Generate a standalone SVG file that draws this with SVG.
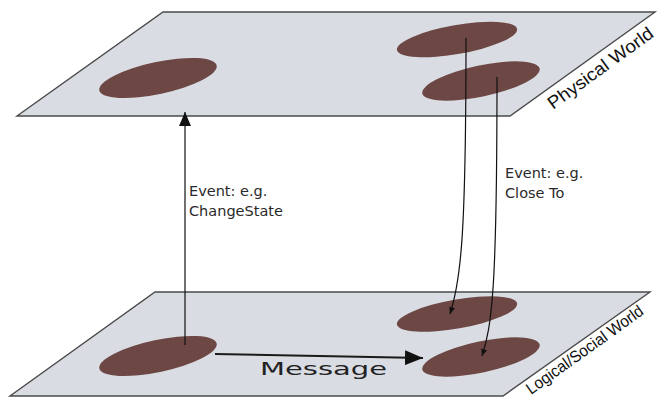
<svg xmlns="http://www.w3.org/2000/svg" width="659" height="405" viewBox="0 0 659 405">
  <style>
    .plane { fill: #dadce3; stroke: #4a4a4a; stroke-width: 1.4; stroke-linejoin: miter; }
    .entity { fill: #6c4744; }
    .link { fill: none; stroke: #111; stroke-width: 1.2; }
    .msg { fill: none; stroke: #1a1a1a; stroke-width: 2; }
    .label { font-family: "DejaVu Sans", "Liberation Sans", sans-serif; font-size: 14.5px; fill: #2a2a2a; }
    .world { font-family: "Liberation Sans", "DejaVu Sans", sans-serif; font-size: 18px; fill: #111; }
    .msgtext { font-family: "DejaVu Sans", "Liberation Sans", sans-serif; font-size: 18px; fill: #222; }
  </style>
  <defs>
    <marker id="bigHead" markerWidth="14" markerHeight="12" refX="14" refY="6" orient="auto" markerUnits="userSpaceOnUse">
      <path d="M0,0 L14,6 L0,12 Z" fill="#111"/>
    </marker>
    <marker id="msgHead" markerWidth="18" markerHeight="15" refX="18" refY="7.5" orient="auto" markerUnits="userSpaceOnUse">
      <path d="M0,0 L18,7.5 L0,15 Z" fill="#111"/>
    </marker>
    <marker id="smallHead" markerWidth="7" markerHeight="6" refX="7" refY="3" orient="auto" markerUnits="userSpaceOnUse">
      <path d="M0,0 L7,3 L0,6 Z" fill="#111"/>
    </marker>
  </defs>

  <!-- Physical world plane -->
  <g id="physical-world">
    <polygon class="plane" points="163,12 655,12 510,116 17,116"/>
    <text class="world" transform="translate(553,110) rotate(-36)" textLength="126" lengthAdjust="spacingAndGlyphs">Physical World</text>
  </g>
  <g id="phys-a"><ellipse class="entity" cx="158" cy="78" rx="60" ry="16" transform="rotate(-12 158 78)"/></g>
  <g id="phys-b"><ellipse class="entity" cx="457" cy="39.5" rx="61" ry="14.5" transform="rotate(-10 457 39.5)"/></g>
  <g id="phys-c"><ellipse class="entity" cx="481" cy="81" rx="60" ry="15.5" transform="rotate(-12 481 81)"/></g>

  <!-- Logical/social world plane -->
  <g id="logical-world">
    <polygon class="plane" points="155,292 650,292 503,396 10,396"/>
    <text class="world" style="font-size:16.5px" transform="translate(531,395) rotate(-35.6)" textLength="140" lengthAdjust="spacingAndGlyphs">Logical/Social World</text>
  </g>
  <g id="log-a"><ellipse class="entity" cx="158" cy="356" rx="60" ry="16" transform="rotate(-12 158 356)"/></g>
  <g id="log-b"><ellipse class="entity" cx="457" cy="314" rx="61" ry="14.5" transform="rotate(-10 457 314)"/></g>
  <g id="log-c"><ellipse class="entity" cx="481" cy="357" rx="60" ry="15.5" transform="rotate(-12 481 357)"/></g>

  <!-- Connectors -->
  <g id="connectors">
    <line class="link" x1="185" y1="345" x2="185" y2="112" marker-end="url(#bigHead)"/>
    <path class="msg" d="M215,354 L423,358" marker-end="url(#msgHead)"/>
    <path class="link" d="M466,38 C466,235 461,280 450,314" marker-end="url(#smallHead)"/>
    <path class="link" d="M497,77 C497,290 492,325 482,356" marker-end="url(#smallHead)"/>
  </g>

  <!-- Connector labels -->
  <g id="labels">
    <text class="label" x="189" y="196">Event: e.g.</text>
    <text class="label" x="189" y="216">ChangeState</text>
    <text class="label" x="505" y="178">Event: e.g.</text>
    <text class="label" x="505" y="198">Close To</text>
    <text class="msgtext" x="260" y="375" textLength="127" lengthAdjust="spacingAndGlyphs">Message</text>
  </g>
</svg>
